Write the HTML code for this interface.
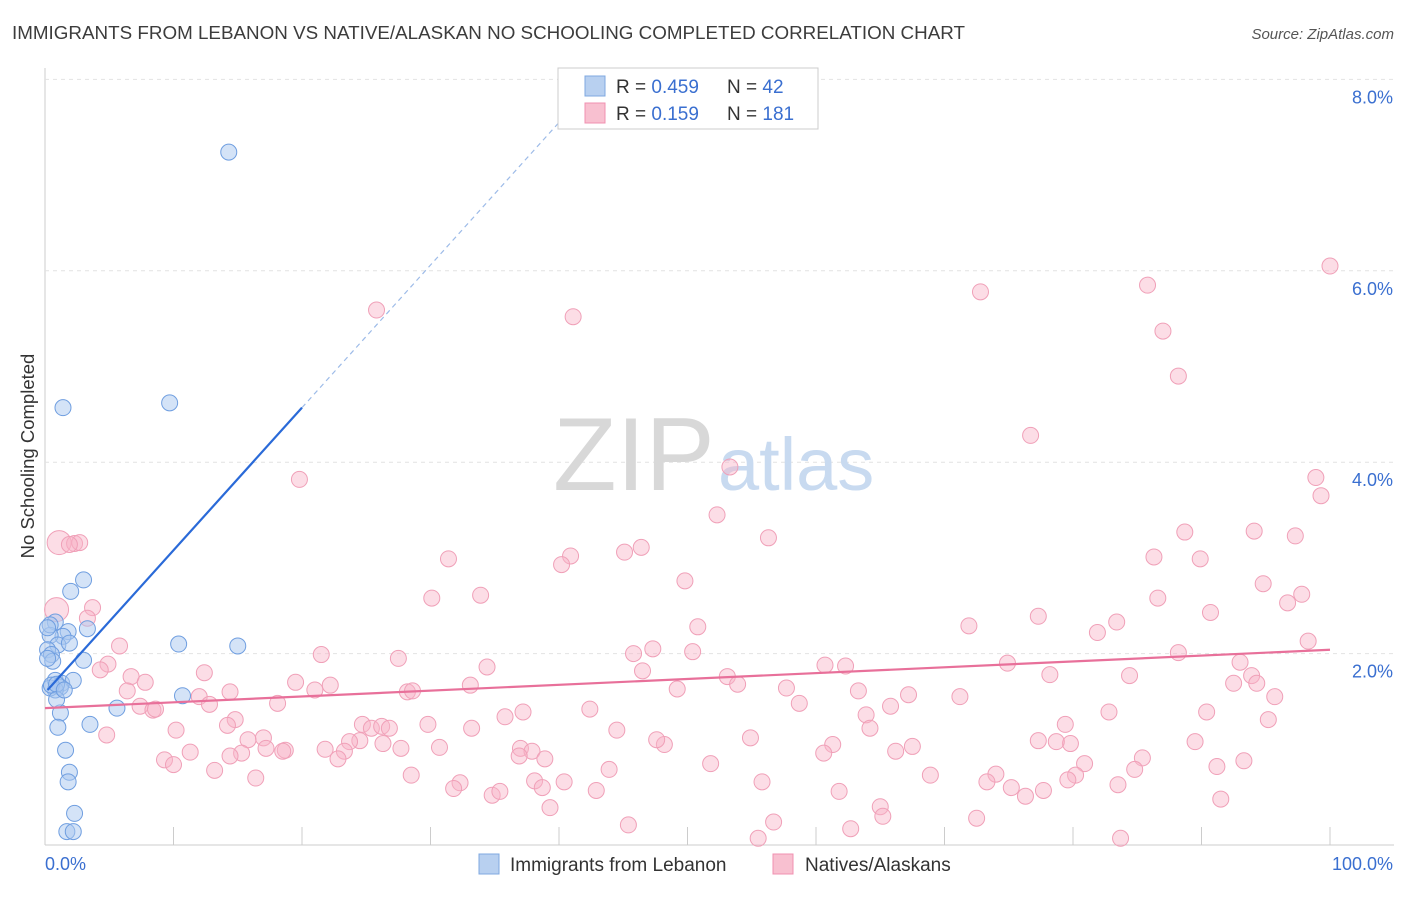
<!DOCTYPE html>
<html><head><meta charset="utf-8"><style>
body{margin:0;background:#fff;font-family:"Liberation Sans",sans-serif;}
svg text{font-family:"Liberation Sans",sans-serif;}
</style></head><body>
<svg id="chart" width="1406" height="892">
<text x="12" y="39" font-size="18" fill="#3c3c3c" textLength="953" lengthAdjust="spacingAndGlyphs">IMMIGRANTS FROM LEBANON VS NATIVE/ALASKAN NO SCHOOLING COMPLETED CORRELATION CHART</text>
<text x="1394" y="39" font-size="15" fill="#555" font-style="italic" text-anchor="end">Source: ZipAtlas.com</text>
<text x="0" y="0" font-size="18.5" fill="#333" transform="translate(34,456) rotate(-90)" text-anchor="middle">No Schooling Completed</text>
<g id="grid"></g>
<text x="553" y="490" font-size="104" fill="#d8d8d8" font-family="Liberation Serif">ZIP</text>
<text x="718" y="490" font-size="74" fill="#c8daf0">atlas</text>
<g id="pts"></g>
<g id="lines"></g>
<g>
<rect x="558" y="68" width="260" height="61" fill="#fff" stroke="#ccc"/>
<rect x="585" y="76" width="20" height="20" fill="#b8d0f0" stroke="#7fa8e0"/>
<rect x="585" y="103" width="20" height="20" fill="#f8c0d0" stroke="#f090b0"/>
<text x="616" y="93" font-size="19" fill="#333">R = <tspan fill="#3a6fd0">0.459</tspan></text>
<text x="727" y="93" font-size="19" fill="#333">N = <tspan fill="#3a6fd0"> 42</tspan></text>
<text x="616" y="120" font-size="19" fill="#333">R = <tspan fill="#3a6fd0"> 0.159</tspan></text>
<text x="727" y="120" font-size="19" fill="#333">N = <tspan fill="#3a6fd0">181</tspan></text>
</g>
<g>
<rect x="479" y="854" width="20" height="20" fill="#b8d0f0" stroke="#7fa8e0"/>
<text x="510" y="871" font-size="19" fill="#333">Immigrants from Lebanon</text>
<rect x="773" y="854" width="20" height="20" fill="#f8c0d0" stroke="#f090b0"/>
<text x="805" y="871" font-size="19" fill="#333">Natives/Alaskans</text>
</g>
<text x="45" y="870" font-size="18" fill="#3a6fd0">0.0%</text>
<text x="1393" y="870" font-size="18" fill="#3a6fd0" text-anchor="end">100.0%</text>
</svg>
<script>
const yTicks=[2,4,6,8];
const yTickLabels=["2.0%","4.0%","6.0%","8.0%"];
const xTicks=[0,10,20,30,40,50,60,70,80,90,100];
const blueX=[14.3,9.7,1.4,3.0,2.0,0.8,1.8,1.4,0.4,3.3,1.0,1.9,0.2,0.5,0.6,10.4,15.0,3.0,0.8,1.3,2.2,1.2,0.8,0.4,10.7,5.6,1.2,3.5,1.0,1.6,1.9,1.8,2.3,1.7,2.2,0.2,0.5,0.9,0.4,0.2,0.9,1.5];
const blueY=[7.24,4.62,4.57,2.77,2.65,2.33,2.23,2.18,2.19,2.26,2.09,2.11,2.04,1.99,1.92,2.10,2.08,1.93,1.72,1.69,1.72,1.65,1.62,1.64,1.56,1.43,1.38,1.26,1.23,0.99,0.76,0.66,0.33,0.14,0.14,1.95,1.67,1.68,2.30,2.27,1.52,1.62];
const pinkX=[100,72.8,85.8,25.8,41.1,87.0,88.2,76.7,19.8,53.3,98.9,99.3,52.3,56.3,88.7,94.1,97.3,1.1,2.3,2.7,1.9,46.4,45.1,40.9,40.2,31.4,86.3,89.9,49.8,94.8,33.9,30.1,86.6,97.8,96.7,3.7,0.9,3.3,77.3,90.7,50.8,71.9,83.4,81.9,98.3,5.8,21.5,47.3,50.4,45.8,88.2,4.9,27.5,34.4,60.7,62.3,74.9,93.0,4.3,12.4,78.2,46.5,53.1,93.9,84.4,19.5,22.2,6.7,33.1,21.0,7.8,53.9,92.5,94.3,6.4,28.2,28.6,12.0,14.4,49.2,57.7,63.3,67.2,71.2,95.7,18.1,7.4,8.4,8.6,12.8,37.2,42.4,58.7,65.8,82.8,90.4,35.8,14.8,63.9,95.2,29.8,33.2,10.2,24.7,25.4,26.2,26.8,44.5,64.2,79.4,14.2,77.3,79.8,89.5,54.9,61.3,78.7,4.8,17.0,15.8,24.5,26.3,27.7,23.7,17.2,30.7,18.7,21.8,23.3,48.2,47.6,37.0,37.9,11.3,15.3,18.5,36.9,14.4,60.6,67.5,66.2,85.4,9.3,10.0,22.8,38.9,80.9,13.2,43.9,51.8,68.9,74.0,80.2,84.8,91.2,93.3,16.4,28.5,32.3,38.1,40.4,38.7,55.8,73.3,75.2,77.7,79.6,83.5,31.8,34.8,35.4,42.9,61.8,76.3,91.5,65.0,65.2,39.3,45.4,56.7,62.7,72.5,83.7,55.5];
const pinkY=[6.05,5.78,5.85,5.59,5.52,5.37,4.90,4.28,3.82,3.95,3.84,3.65,3.45,3.21,3.27,3.28,3.23,3.16,3.15,3.16,3.14,3.11,3.06,3.02,2.93,2.99,3.01,2.99,2.76,2.73,2.61,2.58,2.58,2.62,2.53,2.48,2.46,2.37,2.39,2.43,2.28,2.29,2.33,2.22,2.13,2.08,1.99,2.05,2.02,2.00,2.01,1.89,1.95,1.86,1.88,1.87,1.90,1.91,1.83,1.80,1.78,1.82,1.76,1.77,1.77,1.70,1.67,1.76,1.67,1.62,1.70,1.68,1.69,1.69,1.61,1.60,1.61,1.55,1.60,1.63,1.64,1.61,1.57,1.55,1.55,1.48,1.45,1.41,1.42,1.47,1.39,1.42,1.48,1.45,1.39,1.39,1.34,1.31,1.36,1.31,1.26,1.22,1.20,1.26,1.22,1.24,1.22,1.20,1.22,1.26,1.25,1.09,1.06,1.08,1.12,1.05,1.08,1.15,1.12,1.10,1.09,1.06,1.01,1.08,1.01,1.02,0.99,1.00,0.98,1.05,1.10,1.01,0.98,0.97,0.96,0.98,0.93,0.93,0.96,1.03,0.98,0.91,0.89,0.84,0.90,0.90,0.85,0.78,0.79,0.85,0.73,0.74,0.73,0.79,0.82,0.88,0.70,0.73,0.65,0.67,0.66,0.60,0.66,0.66,0.60,0.57,0.68,0.63,0.59,0.52,0.56,0.57,0.56,0.51,0.48,0.40,0.30,0.39,0.21,0.24,0.17,0.28,0.07,0.07];
const blueTrend=[1.59,0.149];
const pinkTrend=[1.43,0.0061];
const NS="http://www.w3.org/2000/svg";
const X=v=>45+v*12.85, Y=v=>845-v*95.7;
function mk(t,a,p){const e=document.createElementNS(NS,t);for(const k in a)e.setAttribute(k,a[k]);p.appendChild(e);return e;}
const grid=document.getElementById('grid');
mk('line',{x1:45,y1:Y(0),x2:1394,y2:Y(0),stroke:'#ccc'},grid);
mk('line',{x1:45,y1:68,x2:45,y2:845,stroke:'#ccc'},grid);
yTicks.forEach((t,i)=>{
 const l=mk('line',{x1:45,y1:Y(t),x2:1394,y2:Y(t),stroke:'#e2e2e2','stroke-dasharray':'4,4'},grid);
 
 
 const tx=mk('text',{x:1393,y:Y(t)+24,'font-size':18,fill:'#3a6fd0','text-anchor':'end'},grid);
 tx.textContent=yTickLabels[i];
 
 
});
xTicks.forEach(t=>{
 const l=mk('line',{x1:X(t),y1:827,x2:X(t),y2:845,stroke:'#ccc'},grid);
 
 
});
const pts=document.getElementById('pts');
pinkX.forEach((x,i)=>{
 const big=(i==17||i==36);
 const c=mk('circle',{cx:X(x),cy:Y(pinkY[i]),r:big?12:8,fill:'rgba(248,180,200,0.45)',stroke:'#f0a0b8','stroke-width':1},pts);
 
 
});
blueX.forEach((x,i)=>{
 const c=mk('circle',{cx:X(x),cy:Y(blueY[i]),r:8,fill:'rgba(170,200,240,0.5)',stroke:'#6f9ee0','stroke-width':1},pts);
 
 
});
const lines=document.getElementById('lines');
const bf=x=>blueTrend[0]+blueTrend[1]*x, pf=x=>pinkTrend[0]+pinkTrend[1]*x;
let l=mk('line',{x1:X(0.2),y1:Y(bf(0.2)),x2:X(20),y2:Y(bf(20)),stroke:'#2a6ad8','stroke-width':2.2},lines);


l=mk('line',{x1:X(20),y1:Y(bf(20)),x2:X(41.6),y2:Y(bf(41.6)),stroke:'#9dbbe8','stroke-width':1.2,'stroke-dasharray':'5,4'},lines);


l=mk('line',{x1:X(0),y1:Y(pf(0)),x2:X(100),y2:Y(pf(100)),stroke:'#e8709a','stroke-width':2.2},lines);


</script>
</body></html>
